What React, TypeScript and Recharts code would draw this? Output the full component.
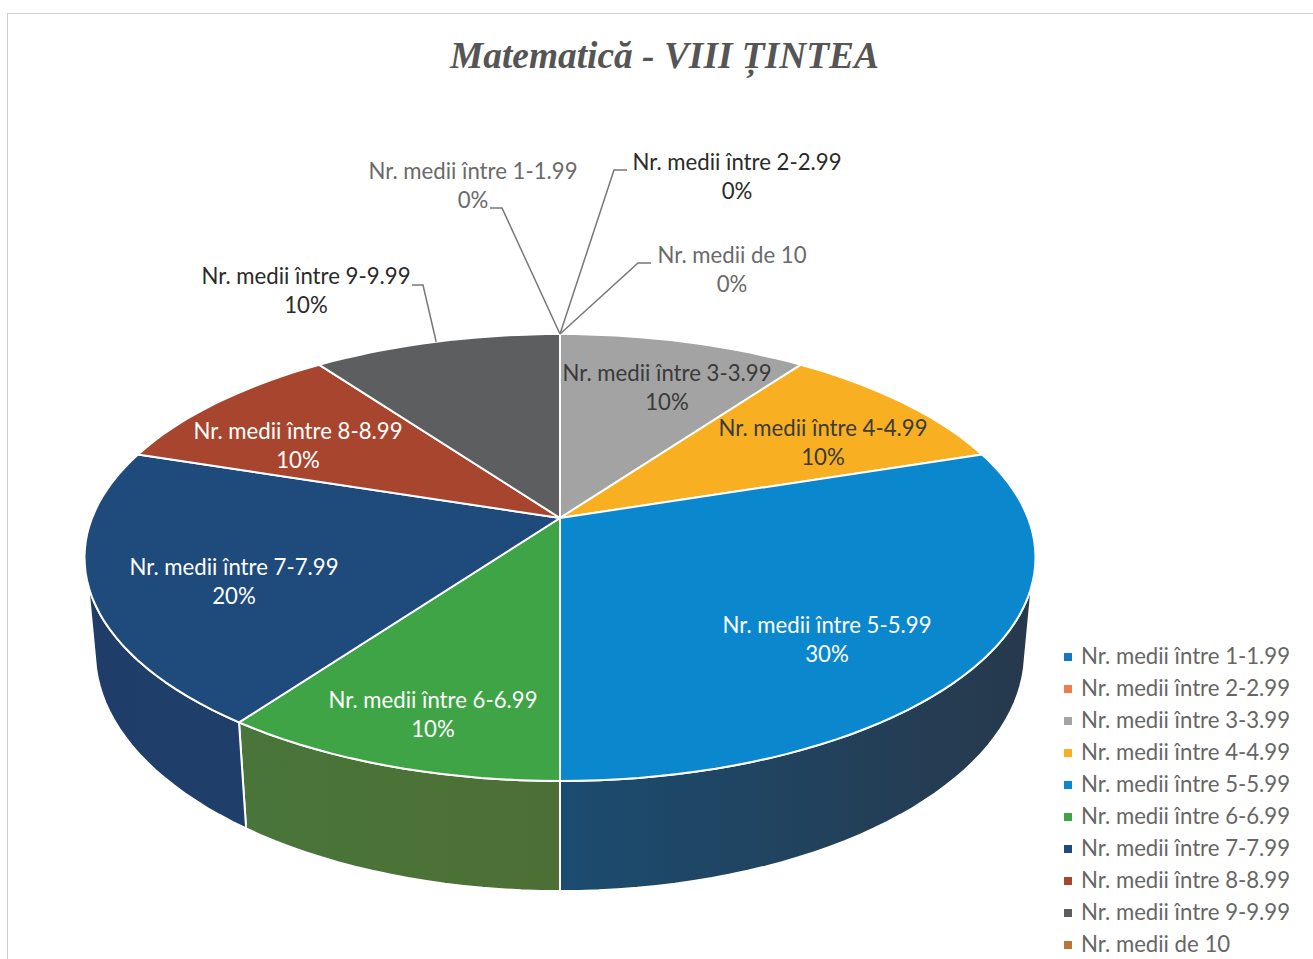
import { Legend, Pie, PieChart } from "recharts";

const categories = [
  "Nr. medii între 1-1.99",
  "Nr. medii între 2-2.99",
  "Nr. medii între 3-3.99",
  "Nr. medii între 4-4.99",
  "Nr. medii între 5-5.99",
  "Nr. medii între 6-6.99",
  "Nr. medii între 7-7.99",
  "Nr. medii între 8-8.99",
  "Nr. medii între 9-9.99",
  "Nr. medii de 10",
];
const counts = [0, 0, 1, 1, 3, 1, 2, 1, 1, 0];
const colors = [
  "#1578c4", "#ed7d50", "#a3a3a3", "#f8b022", "#0a87cd",
  "#3ea445", "#1f4a7c", "#a8452e", "#5d5e5f", "#b5783a",
];
// side wall of the disc: [colour near the front, colour near the edge]
const wallColors: Record<number, [string, string]> = {
  4: ["#1b4c70", "#27394c"],
  5: ["#4d6f35", "#47783c"],
  6: ["#1f4470", "#1f3d68"],
};

// label centre x, y of first text line, colour
const labelLayout: [number, number, string][] = [
  [473, 170, "#6a6a6a"],
  [737, 161, "#2a2a2a"],
  [667, 372, "#3a3a3a"],
  [823, 427, "#3a3a3a"],
  [827, 624, "#ffffff"],
  [433, 699, "#ffffff"],
  [234, 566, "#ffffff"],
  [298, 430, "#ffffff"],
  [306, 275, "#2a2a2a"],
  [732, 254, "#6a6a6a"],
];
// leader line start points, for the labels that sit outside the pie
const leaderStart: Record<number, [number, number][]> = {
  0: [[490, 208], [502, 208]],
  1: [[627, 170], [614, 170]],
  8: [[412, 285], [423, 285]],
  9: [[651, 263], [638, 263]],
};

const tableData = categories.map((name, i) => ({
  name,
  value: counts[i],
  fill: colors[i],
}));

const FONT = "Lato, sans-serif";
const TILT = 0.4626; // flattening of the disc
const PERSP = 0.1767; // how much the far side shrinks
const DEPTH = 92; // drop of the disc's lower face
const rad = (d: number) => (d * Math.PI) / 180;

// angle here is clockwise from the top of the disc
const project = (cx: number, cy: number, r: number, a: number, lower = false) => {
  const u = Math.sin(rad(a));
  const v = Math.cos(rad(a));
  const den = 1 + PERSP * v;
  const rx = lower ? r * 0.978 : r;
  const ry = (lower ? r * 1.069 : r) * TILT;
  return [cx + (rx * u) / den, cy + (lower ? DEPTH : 0) - (ry * v) / den];
};

const arcPoints = (cx: number, cy: number, r: number, a1: number, a2: number, lower = false) => {
  const steps = Math.max(2, Math.ceil(Math.abs(a2 - a1) / 2));
  const out: number[][] = [];
  for (let i = 0; i <= steps; i++) {
    out.push(project(cx, cy, r, a1 + ((a2 - a1) * i) / steps, lower));
  }
  return out;
};

const toPath = (pts: number[][]) =>
  pts.map((p, i) => `${i ? "L" : "M"}${p[0].toFixed(1)},${p[1].toFixed(1)}`).join(" ") + " Z";

const TopSlice = (props: any) => {
  const { cx, cy, outerRadius, startAngle, endAngle, fill } = props;
  if (startAngle === endAngle) return null;
  const pts = [[cx, cy], ...arcPoints(cx, cy, outerRadius, 90 - startAngle, 90 - endAngle)];
  return <path d={toPath(pts)} fill={fill} stroke="#ffffff" strokeWidth={2} strokeLinejoin="round" />;
};

const WallSlice = (props: any) => {
  const { cx, cy, outerRadius, startAngle, endAngle, index } = props;
  const a1 = 90 - startAngle;
  const a2 = 90 - endAngle;
  const wall = wallColors[index];
  if (!wall || a1 === a2) return null;
  // only the front part of the rim can be seen
  const top1 = Math.max(a1, 107);
  const top2 = Math.min(a2, 253);
  const low1 = a1 < 107 ? 104 : a1;
  const low2 = a2 > 253 ? 256 : a2;
  const pts = [
    ...arcPoints(cx, cy, outerRadius, top1, top2),
    ...arcPoints(cx, cy, outerRadius, low2, low1, true),
  ];
  const id = `wall-${index}`;
  const toRight = index === 4;
  return (
    <g>
      <defs>
        <linearGradient
          id={id}
          gradientUnits="userSpaceOnUse"
          x1={cx}
          x2={toRight ? cx + outerRadius : cx - outerRadius}
          y1={0}
          y2={0}
        >
          <stop offset="0%" stopColor={wall[0]} />
          <stop offset="100%" stopColor={wall[1]} />
        </linearGradient>
      </defs>
      <path d={toPath(pts)} fill={`url(#${id})`} stroke="#ffffff" strokeWidth={2} strokeLinejoin="round" />
    </g>
  );
};

const renderLabel = (props: any) => {
  const { cx, cy, outerRadius, midAngle, index, name, percent } = props;
  const [x, y, color] = labelLayout[index];
  const leader = leaderStart[index];
  const end = project(cx, cy, outerRadius, 90 - midAngle);
  return (
    <g>
      {leader && (
        <polyline
          points={[...leader, end].map((p) => p.join(",")).join(" ")}
          fill="none"
          stroke="#777777"
          strokeWidth={1.5}
        />
      )}
      <text x={x} y={y} textAnchor="middle" dominantBaseline="central" fill={color} fontFamily={FONT} fontSize={22.2}>
        {name}
      </text>
      <text x={x} y={y + 29} textAnchor="middle" dominantBaseline="central" fill={color} fontFamily={FONT} fontSize={22.2}>
        {`${Math.round(percent * 100)}%`}
      </text>
    </g>
  );
};

const LegendList = ({ payload }: any) => {
  // both pies feed the legend, keep one entry per category
  const items = (payload || []).filter(
    (item: any, i: number, all: any[]) => all.findIndex((o) => o.value === item.value) === i
  );
  return (
    <div style={{ fontFamily: FONT, fontSize: 22.2, color: "#666666" }}>
      {items.map((item: any) => (
        <div key={item.value} style={{ height: 32, lineHeight: "32px", whiteSpace: "nowrap" }}>
          <span
            style={{
              display: "inline-block",
              width: 8,
              height: 8,
              marginRight: 9,
              verticalAlign: "middle",
              position: "relative",
              top: -1,
              background: item.color,
            }}
          />
          {item.value}
        </div>
      ))}
    </div>
  );
};

export default function App() {
  return (
    <div style={{ position: "absolute", left: 0, top: 0, width: 1313, height: 959, overflow: "hidden", background: "#fff" }}>
      <div style={{ position: "absolute", left: 7, top: 13, right: 0, bottom: 0, borderTop: "1px solid #cfcfcf", borderLeft: "1px solid #cfcfcf" }} />
      <div
        style={{
          position: "absolute",
          left: 0,
          width: 1329,
          top: 34,
          textAlign: "center",
          fontFamily: "'Liberation Serif', serif",
          fontStyle: "italic",
          fontWeight: "bold",
          fontSize: 37.4,
          lineHeight: "44px",
          color: "#555555",
        }}
      >
        Matematică - VIII ȚINTEA
      </div>
      <div style={{ position: "absolute", left: 0, top: 0 }}>
        <PieChart width={1313} height={959} margin={{ top: 0, right: 0, bottom: 0, left: 0 }}>
          <Pie
            data={tableData}
            dataKey="value"
            nameKey="name"
            cx={560}
            cy={518}
            outerRadius={468}
            startAngle={90}
            endAngle={-270}
            legendType="none"
            shape={WallSlice}
            isAnimationActive={false}
          />
          <Pie
            data={tableData}
            dataKey="value"
            nameKey="name"
            cx={560}
            cy={518}
            outerRadius={468}
            startAngle={90}
            endAngle={-270}
            shape={TopSlice}
            label={renderLabel}
            labelLine={false}
            isAnimationActive={false}
          />
          <Legend
            layout="vertical"
            align="right"
            verticalAlign="bottom"
            itemSorter={null}
            content={<LegendList />}
            wrapperStyle={{ position: "absolute", left: 1064, top: 640, width: 249, bottom: "auto", right: "auto" }}
          />
        </PieChart>
      </div>
    </div>
  );
}
